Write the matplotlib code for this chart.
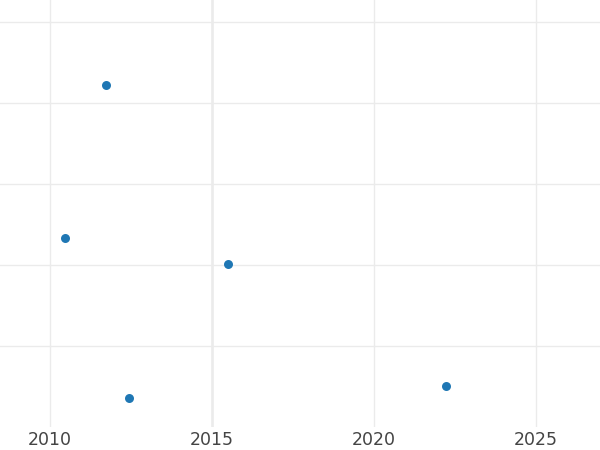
import matplotlib
matplotlib.use("Agg")
import matplotlib.pyplot as plt

# Values
years = [2011.73, 2010.46, 2015.49, 2012.44, 2022.22]
values = [4.22, 2.33, 2.01, 0.36, 0.51]
xticks = [2010, 2015, 2020, 2025]
yticks = [1, 2, 3, 4, 5]

fig = plt.figure(figsize=(6, 4.5), dpi=100)
ax = fig.add_axes([0, 1 - 427 / 450, 1, 427 / 450])

ax.scatter(years, values, s=42, color="#1f77b4", zorder=3, linewidths=0)

ax.set_xlim(2008.457, 2026.975)
ax.set_ylim(0, 5.27)
ax.set_xticks(xticks)
ax.set_yticks(yticks)
ax.set_yticklabels([])
ax.grid(True, color="#ebebeb", linewidth=1.0)
ax.axvline(2015, color="#ebebeb", linewidth=1.8, zorder=1)
ax.set_axisbelow(True)

for s in ax.spines.values():
    s.set_visible(False)
ax.tick_params(axis="both", length=0)
ax.tick_params(axis="x", labelsize=12.5, labelcolor="#444444", pad=3)

fig.savefig("out.png", dpi=100)
